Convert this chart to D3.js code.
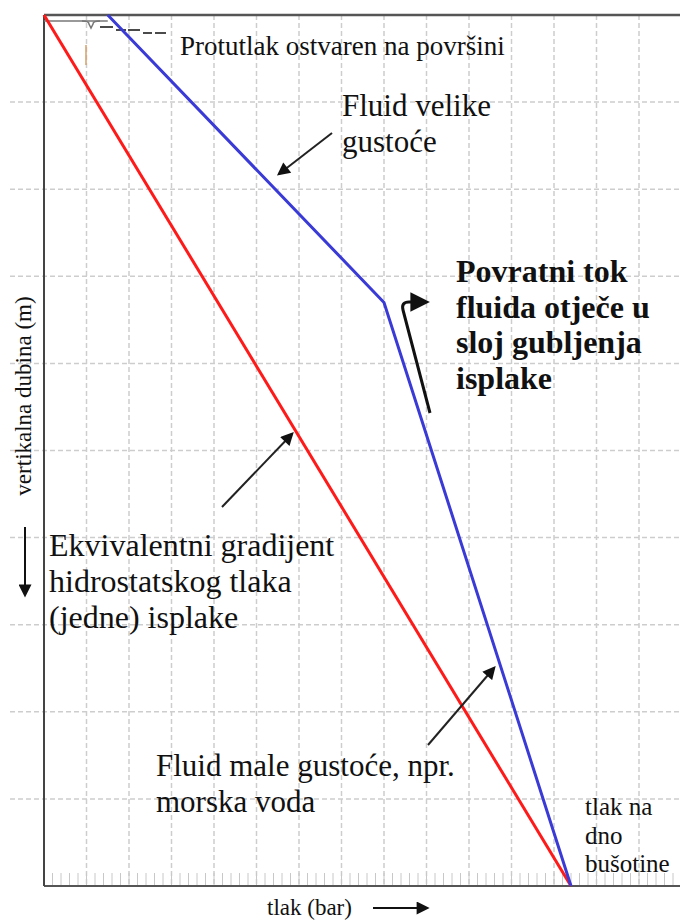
<!DOCTYPE html>
<html>
<head>
<meta charset="utf-8">
<script src="https://cdn.jsdelivr.net/npm/d3@7"></script>
<style>
  body { margin: 0; background: #fff; }
  svg { display: block; }
</style>
</head>
<body>
<div id="chart"></div>
<script>
// pressure (bar) and depth (m) grid
var pressureTicks = d3.range(0, 301, 20);
var pressureMinor = d3.range(0, 301, 4);
var depthTicks = d3.range(0, 1001, 100);

// equivalent hydrostatic gradient of the mud (red)
var mudPressure = [0, 248];
var mudDepth = [0, 1000];

// heavy fluid on top, light fluid below (blue)
var fluidPressure = [30, 160, 248];
var fluidDepth = [0, 330, 1000];

var width = 680, height = 921;
var serif = "'Liberation Serif', 'DejaVu Serif', serif";

var svg = d3.select('#chart')
  .append('svg')
  .attr('width', width)
  .attr('height', height)
  .attr('font-family', serif);

var x = d3.scaleLinear().domain([0, 300]).range([44, 681.5]);
var y = d3.scaleLinear().domain([0, 1000]).range([15, 886]);

var defs = svg.append('defs');
defs.append('marker')
  .attr('id', 'head')
  .attr('viewBox', '0 0 10 10')
  .attr('refX', 8).attr('refY', 5)
  .attr('markerWidth', 7).attr('markerHeight', 6.5)
  .attr('markerUnits', 'strokeWidth')
  .attr('orient', 'auto')
  .append('path')
  .attr('d', 'M0,0 L10,5 L0,10 Z')
  .attr('fill', '#111');

// grid
var grid = svg.append('g').attr('class', 'grid');
grid.selectAll('line.v')
  .data(pressureTicks.slice(1))
  .enter().append('line')
    .attr('class', 'v')
    .attr('x1', function(d) { return x(d); })
    .attr('x2', function(d) { return x(d); })
    .attr('y1', y(0)).attr('y2', y(1000))
    .attr('stroke', '#cdcdcd')
    .attr('stroke-width', 1.5)
    .attr('stroke-dasharray', '5,3');

grid.selectAll('line.h')
  .data(depthTicks.slice(1, -1))
  .enter().append('line')
    .attr('class', 'h')
    .attr('x1', 10).attr('x2', width)
    .attr('y1', function(d) { return y(d); })
    .attr('y2', function(d) { return y(d); })
    .attr('stroke', '#cdcdcd')
    .attr('stroke-width', 1.5)
    .attr('stroke-dasharray', '5,3');

// minor ticks along the bottom
grid.selectAll('line.m')
  .data(pressureMinor)
  .enter().append('line')
    .attr('class', 'm')
    .attr('x1', function(d) { return x(d); })
    .attr('x2', function(d) { return x(d); })
    .attr('y1', y(1000) - 13).attr('y2', y(1000))
    .attr('stroke', '#c8c8c8')
    .attr('stroke-width', 1);

// frame
svg.append('line')
  .attr('x1', x(0)).attr('x2', width)
  .attr('y1', y(0)).attr('y2', y(0))
  .attr('stroke', '#555').attr('stroke-width', 2.5);
svg.append('line')
  .attr('x1', x(0)).attr('x2', width)
  .attr('y1', y(1000)).attr('y2', y(1000))
  .attr('stroke', '#555').attr('stroke-width', 2);
svg.append('line')
  .attr('x1', x(0)).attr('x2', x(0))
  .attr('y1', y(0)).attr('y2', y(1000))
  .attr('stroke', '#444').attr('stroke-width', 2);

// back pressure at surface
svg.append('line')
  .attr('x1', x(0)).attr('x2', x(30))
  .attr('y1', 21).attr('y2', 21)
  .attr('stroke', '#777').attr('stroke-width', 1.5);
svg.append('path')
  .attr('d', 'M82,21 Q89,21 89,24 L91,28 L93,24 Q93,21 100,21')
  .attr('fill', 'none').attr('stroke', '#777').attr('stroke-width', 1.5);
svg.append('path')
  .attr('d', 'M100,27 L113,27 M116,30 L126,30 M128,30 L140,30 M143,33 L152,33 M155,33 L166,33')
  .attr('fill', 'none').attr('stroke', '#111').attr('stroke-width', 1.5);
svg.append('line')
  .attr('x1', 86).attr('x2', 86).attr('y1', 45).attr('y2', 65)
  .attr('stroke', '#d4a06a').attr('stroke-width', 1.5);

// lines
var line = d3.line()
  .x(function(d) { return x(d[0]); })
  .y(function(d) { return y(d[1]); });

svg.append('path')
  .datum(d3.zip(mudPressure, mudDepth))
  .attr('d', line)
  .attr('fill', 'none')
  .attr('stroke', '#ff1a1a')
  .attr('stroke-width', 3);

svg.append('path')
  .datum(d3.zip(fluidPressure, fluidDepth))
  .attr('d', line)
  .attr('fill', 'none')
  .attr('stroke', '#3a3ad6')
  .attr('stroke-width', 3);

// annotation arrows
var arrows = [
  [[332, 133], [279, 174]],
  [[222, 507], [292, 434]],
  [[428, 745], [494, 668]]
];
svg.selectAll('line.arrow')
  .data(arrows)
  .enter().append('line')
    .attr('class', 'arrow')
    .attr('x1', function(d) { return d[0][0]; })
    .attr('y1', function(d) { return d[0][1]; })
    .attr('x2', function(d) { return d[1][0]; })
    .attr('y2', function(d) { return d[1][1]; })
    .attr('stroke', '#222')
    .attr('stroke-width', 2)
    .attr('marker-end', 'url(#head)');

// return flow arrow
svg.append('path')
  .attr('d', 'M430,413 L403,310 Q401,302 409,302 L426,302')
  .attr('fill', 'none')
  .attr('stroke', '#111')
  .attr('stroke-width', 3)
  .attr('marker-end', 'url(#head)');

// text labels
function label(lines, x0, y0, size, lh, weight) {
  var t = svg.append('text')
    .attr('x', x0).attr('y', y0)
    .attr('font-family', serif)
    .attr('font-size', size)
    .attr('font-weight', weight || 'normal')
    .attr('fill', '#111');
  lines.forEach(function(s, i) {
    t.append('tspan').attr('x', x0).attr('y', y0 + i * lh).text(s);
  });
  return t;
}

label(['Protutlak ostvaren na površini'], 180, 55, 27, 0);
label(['Fluid velike', 'gustoće'], 342, 116, 31, 36);
label(['Povratni tok', 'fluida otječe u', 'sloj gubljenja', 'isplake'], 456, 282, 32, 35.5, 'bold');
label(['Ekvivalentni gradijent', 'hidrostatskog tlaka', '(jedne) isplake'], 49, 556, 32, 36);
label(['Fluid male gustoće, npr.', 'morska voda'], 156, 776, 31, 36);
label(['tlak na', 'dno', 'bušotine'], 585, 815, 25, 28.5);

// axis titles
label(['tlak (bar)'], 267, 915, 23, 0);
svg.append('line')
  .attr('x1', 373).attr('x2', 427)
  .attr('y1', 908).attr('y2', 908)
  .attr('stroke', '#111').attr('stroke-width', 2)
  .attr('marker-end', 'url(#head)');

svg.append('text')
  .attr('transform', 'translate(31,396) rotate(-90)')
  .attr('text-anchor', 'middle')
  .attr('font-family', serif)
  .attr('font-size', 23)
  .attr('fill', '#111')
  .text('vertikalna dubina (m)');
svg.append('line')
  .attr('x1', 25).attr('x2', 25)
  .attr('y1', 527).attr('y2', 595)
  .attr('stroke', '#111').attr('stroke-width', 2)
  .attr('marker-end', 'url(#head)');
</script>
</body>
</html>
